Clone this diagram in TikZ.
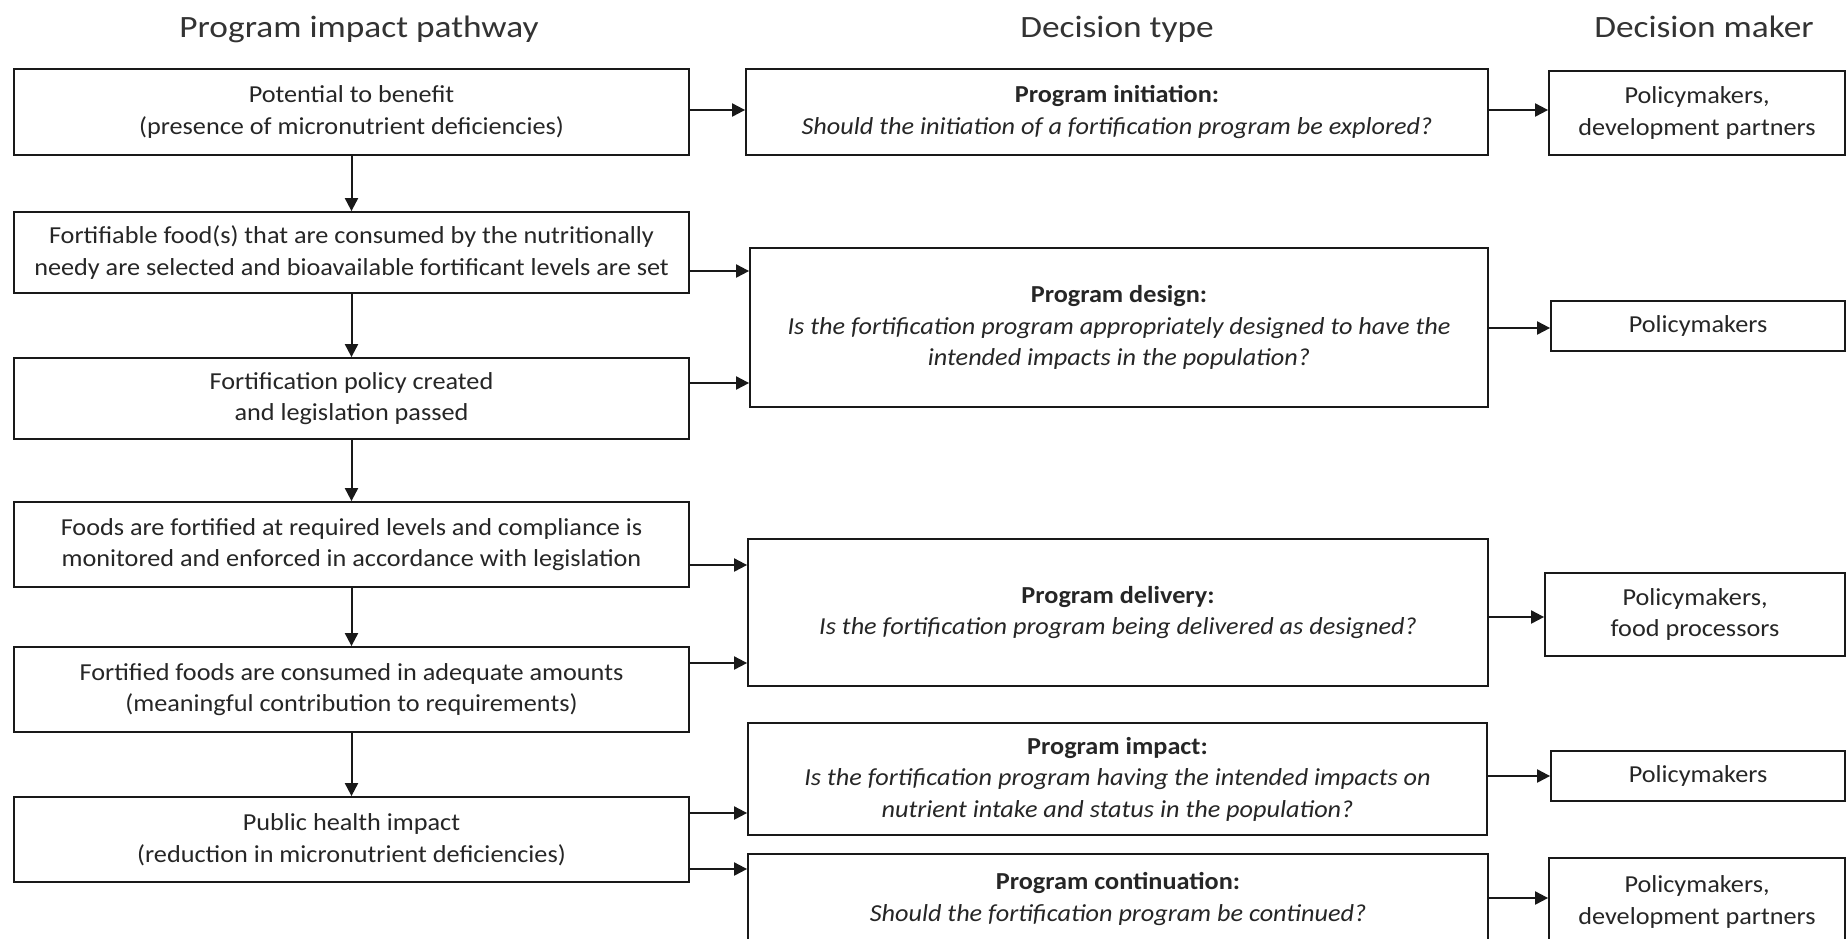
\documentclass[tikz,border=0pt]{standalone}
\usepackage{fontspec}
\setmainfont{Carlito}
\newfontfamily\bodyfont{Carlito}[FakeStretch=1.075]
\newfontfamily\titlefont{Carlito}[FakeStretch=1.14]
\usetikzlibrary{arrows.meta}
\begin{document}
\begin{tikzpicture}[x=1pt,y=-1pt,
  box/.style={draw=black!90, line width=1.8pt, inner sep=0pt, align=center,
    text=black!85, font=\bodyfont\fontsize{24.4}{31.5}\selectfont},
  ttl/.style={anchor=base, text=black!80, font=\titlefont\fontsize{31}{36}\selectfont},
  arr/.style={-{Triangle[length=13pt,width=13pt]}, line width=2pt, draw=black!90}]
\useasboundingbox (0,0) rectangle (1847,938);
\clip (0,0) rectangle (1847,938);
\fill[white] (0,0) rectangle (1847,938);

% titles
\node[ttl] (t1) at (359,37) {Program impact pathway};
\node[ttl] (t2) at (1117,37) {Decision type};
\node[ttl] (t3) at (1704,37) {Decision maker};

% left column
\node[box, minimum width=675pt, minimum height=86pt] (b1) at (351.5,112)
  {Potential to benefit\\(presence of micronutrient deficiencies)};
\node[box, minimum width=675pt, minimum height=81pt] (b2) at (351.5,252.5)
  {Fortifiable food(s) that are consumed by the nutritionally\\needy are selected and bioavailable fortificant levels are set};
\node[box, minimum width=675pt, minimum height=81pt] (b3) at (351.5,398.5)
  {Fortification policy created\\and legislation passed};
\node[box, minimum width=675pt, minimum height=85pt] (b4) at (351.5,544.5)
  {Foods are fortified at required levels and compliance is\\monitored and enforced in accordance with legislation};
\node[box, minimum width=675pt, minimum height=85pt] (b5) at (351.5,689.5)
  {Fortified foods are consumed in adequate amounts\\(meaningful contribution to requirements)};
\node[box, minimum width=675pt, minimum height=85pt] (b6) at (351.5,839.5)
  {Public health impact\\(reduction in micronutrient deficiencies)};

% decision type column
\node[box, minimum width=742pt, minimum height=86pt] (d1) at (1117,112)
  {\textbf{Program initiation:}\\\textit{Should the initiation of a fortification program be explored?}};
\node[box, minimum width=738pt, minimum height=159pt] (d2) at (1119,327.5)
  {\textbf{Program design:}\\\textit{Is the fortification program appropriately designed to have the}\\\textit{intended impacts in the population?}};
\node[box, minimum width=740pt, minimum height=147pt] (d3) at (1118,612.5)
  {\textbf{Program delivery:}\\\textit{Is the fortification program being delivered as designed?}};
\node[box, minimum width=739pt, minimum height=112pt] (d4) at (1117.5,779)
  {\textbf{Program impact:}\\\textit{Is the fortification program having the intended impacts on}\\\textit{nutrient intake and status in the population?}};
\node[box, minimum width=740pt, minimum height=90pt] (d5) at (1118,899)
  {\textbf{Program continuation:}\\\textit{Should the fortification program be continued?}};

% decision maker column
\node[box, minimum width=296pt, minimum height=84pt] (m1) at (1697,113)
  {Policymakers,\\development partners};
\node[box, minimum width=294pt, minimum height=50pt] (m2) at (1698,326)
  {Policymakers};
\node[box, minimum width=300pt, minimum height=83pt] (m3) at (1695,614.5)
  {Policymakers,\\food processors};
\node[box, minimum width=294pt, minimum height=50pt] (m4) at (1698,776)
  {Policymakers};
\node[box, minimum width=296pt, minimum height=88pt] (m5) at (1697,902)
  {Policymakers,\\development partners};

% vertical arrows
\draw[arr] (b1) -- (b2);
\draw[arr] (b2) -- (b3);
\draw[arr] (b3) -- (b4);
\draw[arr] (b4) -- (b5);
\draw[arr] (b5) -- (b6);

% left to decision type
\draw[arr] (b1.east|-0,110) -- (d1.west|-0,110);
\draw[arr] (b2.east|-0,271) -- (d2.west|-0,271);
\draw[arr] (b3.east|-0,383) -- (d2.west|-0,383);
\draw[arr] (b4.east|-0,565) -- (d3.west|-0,565);
\draw[arr] (b5.east|-0,663) -- (d3.west|-0,663);
\draw[arr] (b6.east|-0,813) -- (d4.west|-0,813);
\draw[arr] (b6.east|-0,869) -- (d5.west|-0,869);

% decision type to decision maker
\draw[arr] (d1.east|-0,110) -- (m1.west|-0,110);
\draw[arr] (d2.east|-0,328) -- (m2.west|-0,328);
\draw[arr] (d3.east|-0,617) -- (m3.west|-0,617);
\draw[arr] (d4.east|-0,776) -- (m4.west|-0,776);
\draw[arr] (d5.east|-0,898) -- (m5.west|-0,898);
\end{tikzpicture}
\end{document}
